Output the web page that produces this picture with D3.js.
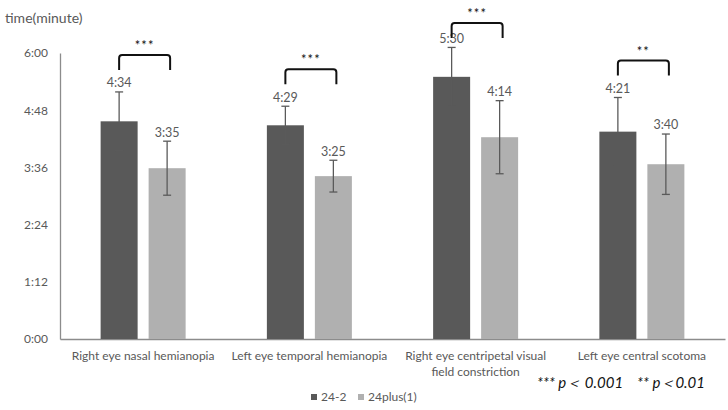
<!DOCTYPE html>
<html>
<head>
<meta charset="utf-8">
<script src="https://cdn.jsdelivr.net/npm/d3@7"></script>
<style>
  html, body { margin: 0; padding: 0; background: #fff; }
  svg { display: block; }
  text { font-family: Lato, "Open Sans", sans-serif; }
</style>
</head>
<body>
<svg id="chart" width="728" height="410"></svg>
<script>
// ---- data (seconds) ----
const categories = [
  "Right eye nasal hemianopia",
  "Left eye temporal hemianopia",
  "Right eye centripetal visual field constriction",
  "Left eye central scotoma"
];
const seriesNames = ["24-2", "24plus(1)"];
const mean24_2 = [274, 269, 330, 261];   // 4:34, 4:29, 5:30, 4:21
const meanPlus = [215, 205, 254, 220];   // 3:35, 3:25, 4:14, 3:40
const sd24_2 = [37, 24, 37, 43];
const sdPlus = [34, 20, 46, 38];
const significance = ["***", "***", "***", "**"];
const yTicks = [0, 72, 144, 216, 288, 360];
const yTitle = "time(minute)";
const pNote = ["*** p＜ 0.001", "** p＜0.01"];

const colors = { "24-2": "#595959", "24plus(1)": "#b0b0b0" };
const textGray = "#595959";

const fmt = s => Math.floor(s / 60) + ":" + String(Math.round(s % 60)).padStart(2, "0");

const svg = d3.select("#chart");
const W = 728, H = 410;
const m = { left: 60, right: 3, top: 53, bottom: 71 };

const x0 = d3.scaleBand().domain(categories).range([m.left, W - m.right]).padding(0);
const x1 = d3.scaleBand().domain(seriesNames).range([0, 85]).paddingInner(0.229);
const y = d3.scaleLinear().domain([0, 360]).range([H - m.bottom, m.top]);

// y axis
const yAxis = d3.axisLeft(y).tickValues(yTicks).tickFormat(fmt).tickSize(0).tickPadding(12);
const gy = svg.append("g").attr("transform", `translate(${m.left},0)`).call(yAxis);
gy.select(".domain").attr("stroke", "#8c8c8c").attr("stroke-width", 1.3);
gy.selectAll("text").attr("fill", textGray).attr("font-size", 12).attr("font-family", "Lato, sans-serif");

// x axis
const xAxis = d3.axisBottom(x0).tickSize(0).tickPadding(12);
const gx = svg.append("g").attr("transform", `translate(0,${y(0)})`).call(xAxis);
gx.select(".domain").attr("stroke", "#8c8c8c").attr("stroke-width", 1.3);
gx.selectAll("text").attr("fill", textGray).attr("font-size", 12).attr("font-family", "Lato, sans-serif")
  .call(wrap, 160);

function wrap(sel, width) {
  sel.each(function () {
    const t = d3.select(this);
    const words = t.text().split(/\s+/);
    const yy = t.attr("y"), dy = parseFloat(t.attr("dy"));
    t.text(null);
    let line = [], lineNo = 0;
    let tspan = t.append("tspan").attr("x", 0).attr("y", yy).attr("dy", dy + "em");
    for (const w of words) {
      line.push(w);
      tspan.text(line.join(" "));
      if (tspan.node().getComputedTextLength() > width && line.length > 1) {
        line.pop();
        tspan.text(line.join(" "));
        line = [w];
        tspan = t.append("tspan").attr("x", 0).attr("y", yy)
          .attr("dy", (++lineNo * 1.4 + dy) + "em").text(w);
      }
    }
  });
}

// bars
const rows = categories.map((c, i) => ({
  cat: c, sig: significance[i],
  vals: [
    { s: seriesNames[0], v: mean24_2[i], sd: sd24_2[i] },
    { s: seriesNames[1], v: meanPlus[i], sd: sdPlus[i] }
  ]
}));

const groups = svg.append("g").selectAll("g").data(rows).join("g")
  .attr("transform", d => `translate(${x0(d.cat) + x0.bandwidth() / 2 - 42.5},0)`);

groups.selectAll("rect").data(d => d.vals).join("rect")
  .attr("x", d => x1(d.s)).attr("width", x1.bandwidth())
  .attr("y", d => y(d.v)).attr("height", d => y(0) - y(d.v))
  .attr("fill", d => colors[d.s]);

// error bars
const eb = groups.selectAll("g.err").data(d => d.vals).join("g").attr("class", "err")
  .attr("stroke", "#5a5a5a").attr("stroke-width", 1.3);
eb.append("line")
  .attr("x1", d => x1(d.s) + x1.bandwidth() / 2).attr("x2", d => x1(d.s) + x1.bandwidth() / 2)
  .attr("y1", d => y(d.v + d.sd)).attr("y2", d => y(d.v - d.sd));
eb.append("line")
  .attr("x1", d => x1(d.s) + x1.bandwidth() / 2 - 4).attr("x2", d => x1(d.s) + x1.bandwidth() / 2 + 4)
  .attr("y1", d => y(d.v + d.sd)).attr("y2", d => y(d.v + d.sd));
eb.append("line")
  .attr("x1", d => x1(d.s) + x1.bandwidth() / 2 - 4).attr("x2", d => x1(d.s) + x1.bandwidth() / 2 + 4)
  .attr("y1", d => y(d.v - d.sd)).attr("y2", d => y(d.v - d.sd));

// value labels
const labelY = d => y(d.v + d.sd) - 9;
groups.selectAll("text.val").data(d => d.vals).join("text").attr("class", "val")
  .attr("x", d => x1(d.s) + x1.bandwidth() / 2)
  .attr("y", labelY)
  .attr("dy", "0.35em")
  .attr("text-anchor", "middle").attr("font-size", 12.5).attr("fill", textGray)
  .text(d => fmt(d.v));

// significance brackets
groups.each(function (d) {
  const g = d3.select(this);
  const labelTop = Math.min(...d.vals.map(labelY));
  const top = Math.max(labelTop - 28, 23);
  const xa = x1(d.vals[0].s) + x1.bandwidth() / 2;
  const xb = x1(d.vals[1].s) + x1.bandwidth() / 2 + 3;
  const r = 3, h = 15;
  g.append("path")
    .attr("d", `M${xa},${top + h} L${xa},${top + r} Q${xa},${top} ${xa + r},${top} L${xb - r},${top} Q${xb},${top} ${xb},${top + r} L${xb},${top + h}`)
    .attr("fill", "none").attr("stroke", "#111").attr("stroke-width", 2);
  g.append("text")
    .attr("x", (xa + xb) / 2).attr("y", top - 12).attr("dy", "0.55em")
    .attr("text-anchor", "middle").attr("font-size", 13).attr("fill", "#111")
    .attr("letter-spacing", 1)
    .text(d.sig);
});

// y title
svg.append("text").attr("x", 5).attr("y", 18).attr("dy", "0.35em")
  .attr("font-size", 14).attr("fill", textGray).text(yTitle);

// p-value note
const pn = svg.append("text").attr("x", 705).attr("y", 383).attr("dy", "0.35em")
  .attr("text-anchor", "end").attr("font-size", 15).attr("font-style", "italic").attr("fill", "#111");
pn.append("tspan").text(pNote[0]);
pn.append("tspan").attr("dx", 14).text(pNote[1]);

// legend
const lg = svg.append("g").attr("transform", "translate(311,397)");
const items = lg.selectAll("g").data(seriesNames).join("g")
  .attr("transform", (d, i) => `translate(${i * 47},0)`);
items.append("rect").attr("x", 0).attr("y", -3).attr("width", 6).attr("height", 6).attr("fill", d => colors[d]);
items.append("text").attr("x", 10).attr("y", 0).attr("dy", "0.35em")
  .attr("font-size", 12).attr("fill", textGray).text(d => d);
</script>
</body>
</html>
